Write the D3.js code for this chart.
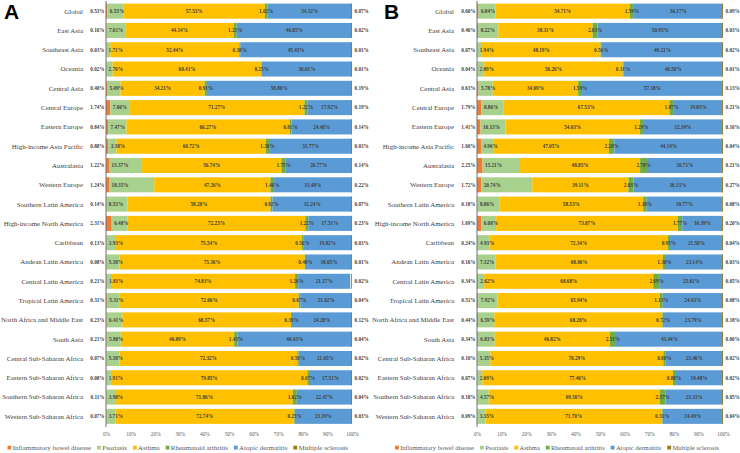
<!DOCTYPE html>
<html><head><meta charset="utf-8">
<script src="https://cdn.jsdelivr.net/npm/d3@7"></script>
<style>body{margin:0;background:#fff;}svg{display:block;}</style>
</head><body>
<svg id="c" width="740" height="453"></svg>
<script>
const regions = ["Global","East Asia","Southeast Asia","Oceania","Central Asia","Central Europe","Eastern Europe","High-income Asia Pacific","Australasia","Western Europe","Southern Latin America","High-income North America","Caribbean","Andean Latin America","Central Latin America","Tropical Latin America","North Africa and Middle East","South Asia","Central Sub-Saharan Africa","Eastern Sub-Saharan Africa","Southern Sub-Saharan Africa","Western Sub-Saharan Africa"];
const diseases = ["Inflammatory bowel disease","Psoriasis","Asthma","Rheumatoid arthritis","Atopic dermatitis","Multiple sclerosis"];
const colors = ["#ED7D31","#A9D18E","#FFC000","#70AD47","#5B9BD5","#9C7A14"];
const tickLabels = ["0%","10%","20%","30%","40%","50%","60%","70%","80%","90%","100%"];

// Panel A values (%), per disease, in region order
const ibdA = [0.53,0.16,0.03,0.02,0.40,1.74,0.84,0.88,1.22,1.24,0.14,2.31,0.13,0.08,0.21,0.31,0.23,0.21,0.07,0.08,0.11,0.07];
const psoA = [6.53,7.61,1.71,2.70,5.49,7.66,7.47,3.38,13.37,18.35,8.53,6.48,3.93,5.38,1.81,5.31,6.41,5.80,5.38,1.91,3.98,3.71];
const astA = [57.53,44.14,52.44,60.41,34.21,71.27,66.27,60.72,56.74,47.26,58.20,72.25,75.54,75.36,74.83,72.66,68.57,46.09,72.32,79.85,71.86,72.74];
const raA  = [1.02,1.21,0.38,0.25,0.91,1.22,0.81,1.30,1.75,1.46,0.82,1.22,0.56,0.48,1.26,0.67,0.39,1.43,0.56,0.67,1.62,0.25];
const adA  = [34.32,46.85,45.43,36.61,58.80,17.92,24.48,33.77,26.77,31.48,32.24,17.51,19.82,18.65,21.17,21.02,24.28,46.43,21.65,17.51,22.47,23.19];
const msA  = [0.07,0.02,0.01,0.01,0.19,0.19,0.14,0.03,0.14,0.22,0.07,0.23,0.03,0.01,0.02,0.04,0.12,0.04,0.02,0.02,0.04,0.03];

// Panel B values (%)
const ibdB = [0.60,0.46,0.07,0.04,0.63,1.79,1.41,1.60,2.25,1.72,0.18,1.69,0.24,0.16,0.34,0.51,0.44,0.34,0.10,0.07,0.18,0.09];
const psoB = [6.84,8.22,1.94,2.89,5.78,8.86,10.13,4.96,15.21,20.74,8.86,6.08,4.93,7.32,2.62,7.92,6.59,6.83,5.35,2.09,4.57,3.35];
const astB = [54.71,38.31,48.19,56.26,34.69,67.53,54.63,47.05,48.85,39.11,58.53,73.87,72.34,68.06,68.68,65.94,68.28,46.82,70.29,77.46,69.50,71.70];
const raB  = [1.59,2.03,0.56,0.31,1.59,1.87,1.29,2.20,2.78,2.03,1.38,1.77,0.95,1.30,2.69,1.13,0.72,2.51,0.80,0.88,2.37,0.33];
const adB  = [36.17,50.95,49.21,40.50,57.18,19.83,32.39,44.14,30.71,36.13,30.77,16.39,21.50,23.14,25.61,24.43,23.79,43.44,23.46,19.48,23.33,24.49];
const msB  = [0.09,0.03,0.02,0.01,0.13,0.21,0.16,0.04,0.21,0.27,0.08,0.20,0.04,0.03,0.05,0.08,0.18,0.06,0.02,0.02,0.05,0.04];

const svg = d3.select("#c");
const FONT = "'Liberation Serif','Times New Roman',serif";

function panel(series, x0, x1, letter, letterX, legStart, legEnd) {
  const g = svg.append("g");
  const x = d3.scaleLinear().domain([0,100]).range([x0,x1]);
  const y = d3.scaleBand().domain(regions).range([1.5,426]).paddingInner(0.22).paddingOuter(0.11);
  const rows = regions.map((r,i)=>{
    let acc = 0;
    return series.map((s,k)=>{ const v = s[i]; const d = {region:r,k,v,start:acc,end:acc+v}; acc += v; return d; });
  });
  const flat = rows.flat();
  g.selectAll("rect.seg").data(flat).join("rect").attr("class","seg")
    .attr("x",d=>x(d.start)).attr("width",d=>Math.max(0,x(Math.min(d.end,100))-x(d.start)))
    .attr("y",d=>y(d.region)).attr("height",y.bandwidth())
    .attr("fill",d=>colors[d.k]);
  g.selectAll("rect.ms").data(flat.filter(d=>d.k===5)).join("rect").attr("class","ms")
    .attr("x",x(100)-0.8).attr("width",0.8).attr("y",d=>y(d.region)).attr("height",y.bandwidth()).attr("fill",colors[5]);
  g.append("line").attr("x1",x(0)).attr("x2",x(0)).attr("y1",1).attr("y2",427).attr("stroke","#6f6f6f").attr("stroke-width",1);
  g.selectAll("text.cat").data(regions).join("text").attr("class","cat")
    .attr("x",x0-23).attr("y",d=>y(d)+y.bandwidth()/2).attr("dy","0.35em")
    .attr("text-anchor","end").attr("font-family",FONT).attr("font-size",6.9).attr("fill","#404040").text(d=>d);
  const fmt = v=>v.toFixed(2)+"%";
  const lab = g.append("g").attr("font-family",FONT).attr("font-size",5.2).attr("font-weight","bold").attr("fill","#404040");
  lab.selectAll("text").data(flat).join("text")
    .attr("x",d=>{
      if(d.k===0) return x(0)-1.5;
      if(d.k===5) return x(100)+2.5;
      if(d.k===1) return x(d.start)+2.5;
      return (x(d.start)+x(d.end))/2;
    })
    .attr("text-anchor",d=>d.k===0?"end":(d.k===5||d.k===1)?"start":"middle")
    .attr("y",d=>y(d.region)+y.bandwidth()/2).attr("dy","0.35em")
    .text(d=>fmt(d.v));
  const ax = d3.axisBottom(x).tickValues(d3.range(0,101,10)).tickFormat((d,i)=>tickLabels[i]).tickSize(0);
  const axg = g.append("g").attr("transform","translate(0,430)").call(ax);
  axg.select(".domain").remove();
  axg.selectAll("text").attr("font-family",FONT).attr("font-size",5.3).attr("fill","#595959").attr("dy","0.5em");
  // legend (fit to span)
  let fs = 7.2;
  const lg = g.append("g").attr("font-family",FONT).attr("font-size",fs).attr("fill","#595959");
  const items = lg.selectAll("g").data(diseases).join("g");
  items.append("rect").attr("width",3.8).attr("height",3.8).attr("y",-3.3).attr("fill",(d,i)=>colors[i]);
  items.append("text").attr("x",5.2).attr("y",0).attr("dy","0.15em").text(d=>d);
  const minGap = 6;
  const measure = ()=>{ const w=[]; items.each(function(){ w.push(5.2 + d3.select(this).select("text").node().getComputedTextLength()); }); return w; };
  let widths = measure();
  const span = legEnd - legStart;
  const textSum = d3.sum(widths) - 5.2*widths.length;
  if (textSum + 5.2*widths.length + minGap*5 > span) {
    fs = fs * (span - 5.2*widths.length - minGap*5) / textSum;
    lg.attr("font-size",fs);
    widths = measure();
  }
  const gap = (span - d3.sum(widths)) / (widths.length-1);
  let cx = legStart;
  items.attr("transform",(d,i)=>{ const t = `translate(${cx},449)`; cx += widths[i]+gap; return t; });
  svg.append("text").attr("x",letterX).attr("y",19).attr("font-family","'Liberation Sans',Arial,sans-serif")
    .attr("font-weight","bold").attr("font-size",21).attr("fill","#000").text(letter);
}
panel([ibdA,psoA,astA,raA,adA,msA],106,352,"A",4,7.5,348);
panel([ibdB,psoB,astB,raB,adB,msB],477,723,"B",384,395,719);
</script>
</body></html>
